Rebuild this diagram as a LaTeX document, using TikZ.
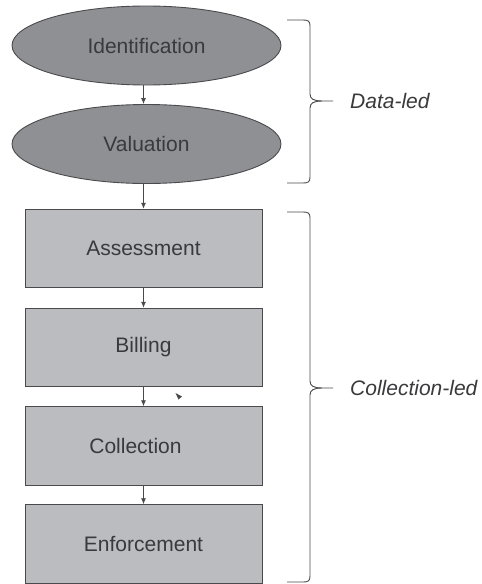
\documentclass[tikz,border=0pt]{standalone}
\usepackage{fontspec}
\setmainfont{Liberation Sans}
\usetikzlibrary{shapes.geometric,arrows.meta}
\definecolor{ellfill}{HTML}{8E9094}
\definecolor{boxfill}{HTML}{BABCBF}
\definecolor{edge}{HTML}{4A4A4C}
\definecolor{ink}{HTML}{3A3A3C}
\begin{document}
\begin{tikzpicture}[x=1pt,y=1pt,
  ell/.style={ellipse, draw=edge, line width=0.9pt, fill=ellfill, minimum width=269pt, minimum height=79pt, inner sep=0pt, text=ink, font=\fontsize{21}{25}\selectfont},
  stepbox/.style={rectangle, draw=edge, line width=1pt, fill=boxfill, minimum width=237pt, minimum height=78.5pt, inner sep=0pt, text=ink, font=\fontsize{21}{25}\selectfont},
  arr/.style={draw=edge, line width=0.8pt, -{Latex[length=6pt,width=5pt]}},
  brace/.style={draw=edge, line width=0.9pt},
  lbl/.style={text=ink, font=\fontsize{21}{25}\selectfont\itshape, anchor=west, inner sep=0pt}]
\useasboundingbox (0,0) rectangle (482,-584);
\node[ell] (e1) at (146.5,-45.5) {Identification};
\node[ell] (e2) at (146.5,-144) {Valuation};
\node[stepbox] (r1) at (143.5,-248.5) {Assessment};
\node[stepbox] (r2) at (143.5,-347.5) {Billing};
\node[stepbox] (r3) at (143.5,-446) {Collection\hspace*{16pt}};
\node[stepbox] (r4) at (143.5,-544) {Enforcement};
\draw[arr] (e1.south -| r1.north) -- (e2.north -| r1.north);
\draw[arr] (e2.south -| r1.north) -- (r1.north);
\draw[arr] (r1) -- (r2);
\draw[arr] (r2) -- (r3);
\draw[arr] (r3) -- (r4);
\fill[edge] (175.5,-393) -- (182,-396.5) -- (178.5,-399.5) -- cycle;
% Data-led brace
\draw[brace] (287,-20) -- (303,-20) .. controls (308,-20) and (310,-21) .. (310,-26) -- (310,-94) .. controls (310,-99) and (314,-101) .. (322,-101) -- (333,-101);
\draw[brace] (322,-101) .. controls (314,-101) and (310,-103) .. (310,-108) -- (310,-177) .. controls (310,-182) and (308,-183) .. (303,-183) -- (287,-183);
\node[lbl] (dl) at (350,-101) {Data-led};
% Collection-led brace
\draw[brace] (287,-212) -- (303,-212) .. controls (308,-212) and (310,-213) .. (310,-218) -- (310,-381) .. controls (310,-386) and (314,-388) .. (322,-388) -- (333,-388);
\draw[brace] (322,-388) .. controls (314,-388) and (310,-390) .. (310,-395) -- (310,-576) .. controls (310,-581) and (308,-582) .. (303,-582) -- (287,-582);
\node[lbl] (cl) at (350,-388) {Collection-led};
\end{tikzpicture}
\end{document}
